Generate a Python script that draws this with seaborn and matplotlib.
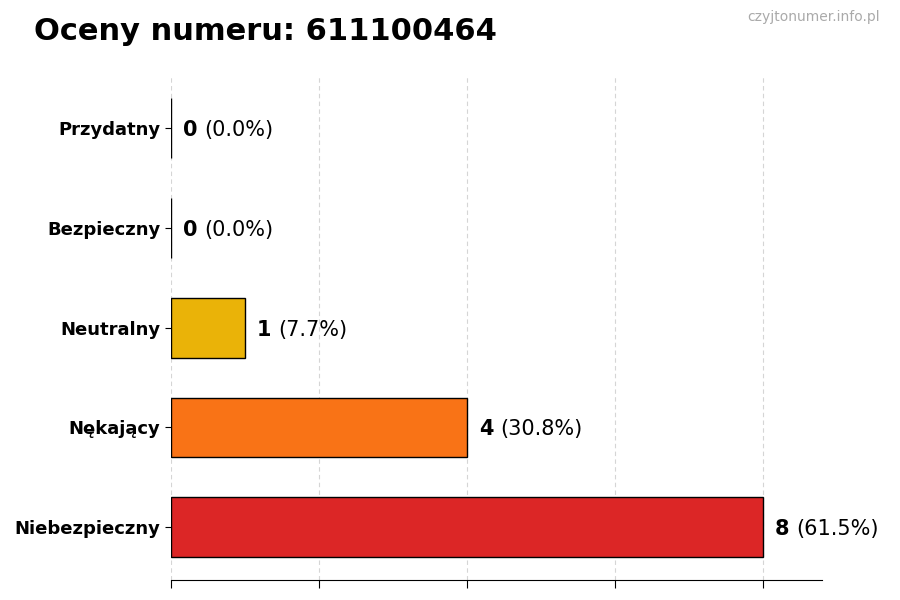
import pandas as pd
import matplotlib.pyplot as plt
import seaborn as sns

# data
categories = ["Przydatny", "Bezpieczny", "Neutralny", "Nękający", "Niebezpieczny"]
counts = [0, 0, 1, 4, 8]
bar_colors = ["#22C55E", "#3B82F6", "#EAB308", "#F97316", "#DC2626"]
phone_number = "611100464"

total = sum(counts)
percents = [c / total * 100 for c in counts]
df = pd.DataFrame({"category": categories, "count": counts})

sns.set_style("white")
plt.rcParams['font.family'] = ['DejaVu Sans']
plt.rcParams['text.color'] = 'black'
plt.rcParams['ytick.color'] = 'black'
plt.rcParams['xtick.color'] = 'black'

fig = plt.figure(figsize=(9, 6), dpi=100)
ax = fig.add_axes([0.19, 0.0333, 0.7233, 0.84])

sns.barplot(data=df, x="count", y="category", hue="category", palette=bar_colors,
            order=categories, hue_order=categories, legend=False,
            edgecolor="black", linewidth=1, width=0.6, saturation=1, ax=ax)

ax.set_xlim(0, max(counts) * 1.1)
ax.set_ylim(4.53, -0.525)
ax.set_xticks([0, 2, 4, 6, 8])
ax.set_xticklabels([])
ax.set_xlabel("")
ax.set_ylabel("")
ax.tick_params(axis="y", labelsize=13, length=4, left=True, labelcolor="black")
ax.tick_params(axis="x", length=6, bottom=True)
for lbl in ax.get_yticklabels():
    lbl.set_fontweight("bold")

ax.grid(axis="x", linestyle=(0, (4, 3)), color="#d5d5d5", linewidth=0.8)
ax.set_axisbelow(True)
for side in ["top", "right", "left"]:
    ax.spines[side].set_visible(False)
ax.spines["bottom"].set_color("black")

# value labels: bold count + normal percentage
for i, (c, p) in enumerate(zip(counts, percents)):
    t = ax.text(c + 0.16, i, f"{c}", fontsize=15, fontweight="bold", va="center_baseline",
                ha="left", color="black")
    ax.annotate(f"({p:.1f}%)", xy=(1, 0), xycoords=t, xytext=(5, 0),
                textcoords="offset points", fontsize=15, va="bottom", ha="left", color="black")

fig.text(0.038, 0.947, f"Oceny numeru: {phone_number}", fontsize=22, fontweight="bold",
         ha="left", va="center", color="black")
fig.text(0.978, 0.971, "czyjtonumer.info.pl", fontsize=10, color="#aaaaaa",
         ha="right", va="center")

fig.savefig("out.png", dpi=100)
